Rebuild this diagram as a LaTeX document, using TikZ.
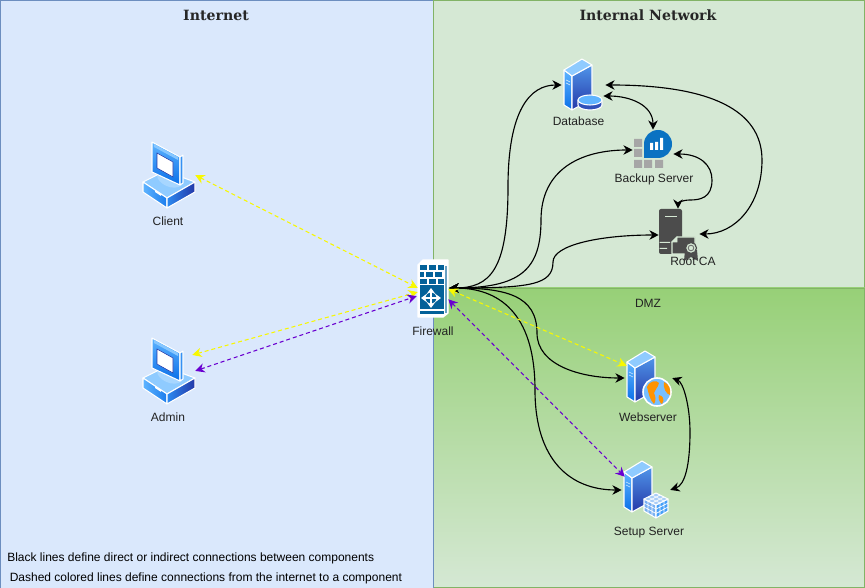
\documentclass[tikz,border=0pt]{standalone}
\usepackage{fontspec}
\setmainfont{Liberation Sans}
\newfontfamily\titlefont{DejaVu Serif}
\definecolor{pcBlue}{HTML}{DAE8FC}
\definecolor{pcBlueL}{HTML}{6C8EBF}
\definecolor{pcGreen}{HTML}{D5E8D4}
\definecolor{pcGreenL}{HTML}{82B366}
\definecolor{pcDmz}{HTML}{97D077}
\definecolor{scrA}{HTML}{0A6FE8}
\definecolor{scrB}{HTML}{5FB4FF}
\definecolor{scrC}{HTML}{2438A8}
\definecolor{fwblue}{HTML}{036199}
\definecolor{bkblue}{HTML}{0A72C2}
\definecolor{lblgray}{HTML}{222222}
\definecolor{vio}{HTML}{6A00D0}
\definecolor{yel}{HTML}{F8F800}
\usetikzlibrary{arrows.meta}
\tikzset{
  lbl/.style={font=\fontsize{9}{11}\selectfont,text=lblgray,inner sep=0pt},
  ttl/.style={font=\titlefont\bfseries\fontsize{10.6}{12}\selectfont,text=black!85,inner sep=0pt},
  note/.style={font=\fontsize{9}{11}\selectfont,text=black,inner sep=0pt,anchor=west},
  port/.style={inner sep=0pt,minimum size=0pt},
  box/.style={inner sep=0pt,draw=none},
  blk/.style={draw=black,line width=0.85pt,{Stealth[length=7pt,width=7pt]}-{Stealth[length=7pt,width=7pt]}},
  yline/.style={draw=yel,line width=0.8pt,dash pattern=on 3pt off 2.2pt,{Stealth[length=7pt,width=7pt]}-{Stealth[length=7pt,width=7pt]}},
  vline/.style={draw=vio,line width=0.8pt,dash pattern=on 3pt off 2.2pt,{Stealth[length=7pt,width=7pt]}-{Stealth[length=7pt,width=7pt]}},
  wht/.style={draw=white,line width=0.8pt,line join=round},
}
\newcommand{\pcicon}[2]{% x, y = centre
\begin{scope}[shift={(#1,#2)}]
 % base
 \fill[wht,fill=scrB!70!white] (-25,6) -- (-3,-5) -- (27,6) -- (-1,22) -- cycle;
 \path[wht,left color=scrB,right color=scrA!80!scrB] (-25,6) -- (-1,22) -- (-1,32) -- (-25,16) -- cycle;
 \path[wht,left color=scrA!60!scrB,right color=scrC] (-1,22) -- (27,6) -- (27,16) -- (-1,32) -- cycle;
 \fill[white] (-13,14) -- (-7,18) -- (-7,20) -- (-13,16) -- cycle;
 % stand
 \fill[scrB!55!white] (-11,-1) .. controls (-11,8) and (6,16) .. (14,9) -- (14,-2) -- cycle;
 % monitor
 \path[wht,top color=scrB,bottom color=scrA] (-16,-34) -- (12,-19) -- (12,9) -- (-16,-4) -- cycle;
 \fill[scrB!75!white] (-14,-32) -- (10,-19) -- (10,-16) -- (-14,-29) -- cycle;
 \fill[wht,fill=scrB!50!scrA] (12,-19) -- (15,-21) -- (15,7) -- (12,9) -- cycle;
 \fill[white,draw=scrC,line width=0.4pt] (-11,-23) -- (5,-14) -- (5,1) -- (-11,-8) -- cycle;
\end{scope}}
\newcommand{\srvicon}[2]{% centre of tower
\begin{scope}[shift={(#1,#2)}]
 \path[wht,top color=scrB,bottom color=scrA] (-13,-17) -- (-5,-11) -- (-5,23) -- (-13,18) -- cycle;
 \path[wht,top color=scrB!75!scrC,bottom color=scrC] (-5,-11) -- (15,-22) -- (15,12) -- (-5,23) -- cycle;
 \fill[wht,fill=scrB!70!white] (-13,-17) -- (5,-28) -- (15,-22) -- (-5,-11) -- cycle;
 \draw[white!70!scrB,line width=0.5pt] (-11,-7) -- (-7,-5) (-11,-4) -- (-7,-2);
\end{scope}}
\begin{document}
\begin{tikzpicture}[x=0.75pt,y=-0.75pt]
\useasboundingbox (0,0) rectangle (865,588);
% zones
\node[box,anchor=north west,minimum width=324.4pt,minimum height=440.4pt,fill=pcBlue,draw=pcBlueL,line width=0.6pt] (zoneInternet) at (0.4,0.4) {};
\node[box,anchor=north west,minimum width=323.6pt,minimum height=215.6pt,fill=pcGreen,draw=pcGreenL,line width=0.6pt] (zoneInternal) at (433,0.5) {};
\path[top color=pcDmz,bottom color=pcGreen] (433,288) rectangle (864.5,587.5);
\draw[pcGreenL,line width=0.6pt] (433,288) rectangle (864.5,587.5);
\draw[pcBlueL,line width=0.6pt] (433,288) -- (433,588);
\node[ttl] (tInternet) at (216,15) {Internet};
\node[ttl] (tInternal) at (648,15) {Internal Network};
\node[lbl] (tDmz) at (648,303) {DMZ};
\node[note] (n1) at (7,558) {Black lines define direct or indirect connections between components};
\node[note] (n2) at (9.5,578) {Dashed colored lines define connections from the internet to a component};

% icons
\pcicon{168}{176}
\pcicon{168}{372}
\node[lbl] (lClient) at (168,221) {Client};
\node[lbl] (lAdmin) at (168,417) {Admin};

% firewall
\begin{scope}[shift={(433,288)}]
 \fill[wht,fill=white,line width=1pt] (-15,-23) -- (-10,-28) -- (15,-28) -- (15,25) -- (10,29) -- (-15,29) -- cycle;
 \foreach \yy/\xa/\xb in {-23/-13/-6,-23/-4/3,-23/5/11,-16/-13/-9,-16/-7/0,-16/2/9,-9/-13/-6,-9/-4/3,-9/5/11}
  \fill[fwblue] (\xa,\yy) rectangle (\xb,\yy+5);
 \fill[fwblue] (-13,-3) rectangle (11,21);
 \fill[fwblue] (-13,23) rectangle (11,26);
 \fill[fwblue!60] (12,-22) rectangle (13.5,25);
 \foreach \dx/\dy in {0/-10,0/10,-10/0,10/0}
  \draw[white,line width=1.6pt,-{Stealth[length=4.5pt,width=6.5pt]}] (-2,10) -- ++(\dx,\dy);
\end{scope}
\node[lbl] (lFw) at (433,331) {Firewall};

% database
\srvicon{577}{87}
\begin{scope}[shift={(590,102)}]
 \fill[wht,fill=scrC!80!scrB] (-12,-2) -- (-12,3) arc[start angle=180,end angle=0,x radius=12,y radius=5] -- (12,-2) -- cycle;
 \fill[wht,fill=scrB] (0,-2) ellipse[x radius=12,y radius=5];
\end{scope}
\node[lbl] (lDb) at (578.5,121) {Database};

% backup
\fill[black!35] (634,139) rectangle (642,147) (634,149) rectangle (642,157)
  (634,160) rectangle (642,168) (644,160) rectangle (652,168) (655,160) rectangle (663,168);
\fill[bkblue] (658,144) circle[radius=14];
\fill[bkblue] (644,144) rectangle (658,158);
\fill[white] (650,143) rectangle (653,150) (655,142) rectangle (658,150) (660,138) rectangle (663,150);
\node[lbl] (lBk) at (654,179.5) {Backup Server};

% root ca
\begin{scope}[shift={(659,209)}]
 \fill[black!70,rounded corners=1.5pt] (0,0) rectangle (23,45);
 \fill[pcGreen] (6,7) rectangle (18,8.3);
 \fill[pcGreen] (0.5,33) rectangle (11,34) (0.5,39) rectangle (8,40);
 \fill[black!70,draw=pcGreen,line width=0.8pt] (18,28) -- (36,28) -- (36,45) -- (13,45) -- (13,33) -- cycle;
 \draw[pcGreen,line width=0.6pt,fill=pcGreen] (13,33) -- (18,33) -- (18,28) -- cycle;
 \fill[black!70] (26,41) -- (25,52) -- (32,48) -- (39,52) -- (38,41) -- cycle;
 \draw[black!70,fill=pcGreen,line width=0.9pt] (32,39) circle (5.5);
 \draw[black!55,line width=0.7pt] (32,39) circle (2.8);
\end{scope}
\node[lbl] (lCa) at (693,261) {Root CA};

% webserver
\srvicon{640}{379}
\begin{scope}[shift={(657,392)}]
 \fill[scrB!85!white,draw=white,line width=1.2pt] (0,0) circle (14);
 \fill[orange!85!yellow] (-10,-5) .. controls (-7,-12) and (0,-12) .. (2,-9) .. controls (1,-4) and (-2,-3) .. (-3,1) .. controls (-1,5) and (-1,9) .. (-3,12) .. controls (-7,8) and (-8,3) .. (-10,-5);
 \fill[orange!85!yellow] (7,-10) .. controls (12,-8) and (14,-3) .. (13,3) .. controls (9,2) and (6,-4) .. (7,-10);
 \fill[orange!85!yellow] (2,3) .. controls (6,4) and (8,7) .. (5,12) .. controls (2,10) and (1,6) .. (2,3);
\end{scope}
\node[lbl] (lWeb) at (648,417) {Webserver};

% setup server
\srvicon{637}{489}
\begin{scope}[shift={(656,505)}]
 \fill[wht,fill=scrA!55!white] (-12,-6) -- (0,0) -- (0,13) -- (-12,6) -- cycle;
 \fill[wht,fill=scrB!70!scrA] (0,0) -- (12,-6) -- (12,6) -- (0,13) -- cycle;
 \fill[wht,fill=scrA!35!white] (-12,-6) -- (0,-12) -- (12,-6) -- (0,0) -- cycle;
 \draw[white,line width=0.5pt] (-8,-4) -- (-8,8) (-4,-2) -- (-4,10.5) (4,-2) -- (4,10.5) (8,-4) -- (8,8)
   (-12,-2) -- (0,4) -- (12,-2) (-12,2) -- (0,8.5) -- (12,2)
   (-8,-8) -- (4,-2) (-4,-10) -- (8,-4) (8,-8) -- (-4,-2) (4,-10) -- (-8,-4);
\end{scope}
\node[lbl] (lSetup) at (649,532.5) {Setup Server};

% ports as named nodes
\node[port] (fwE) at (449,288) {};
\node[port] (fwEy) at (448,289) {};
\node[port] (fwEv) at (448,299) {};
\node[port] (fwW) at (418,288) {};
\node[port] (fwWy) at (418,292) {};
\node[port] (fwWv) at (417,296) {};
\node[port] (clE) at (195,175) {};
\node[port] (adE) at (192,355) {};
\node[port] (adEv) at (195,371) {};
\node[port] (dbW) at (562,85) {};
\node[port] (dbE) at (605,85) {};
\node[port] (dbE2) at (603,96) {};
\node[port] (bkN) at (653,130) {};
\node[port] (bkW) at (633,150) {};
\node[port] (bkE) at (673,154) {};
\node[port] (caN) at (678,209) {};
\node[port] (caW) at (659,235) {};
\node[port] (caE) at (699,234) {};
\node[port] (webW) at (625,378) {};
\node[port] (webE) at (672,378) {};
\node[port] (webY) at (627,366) {};
\node[port] (setW) at (622,490) {};
\node[port] (setE) at (670,490) {};
\node[port] (setV) at (625,477) {};

% black connectors
\draw[blk] (fwE) .. controls (490,288) and (508,270) .. (508,187) .. controls (508,110) and (530,85) .. (dbW);
\draw[blk] (fwE) .. controls (520,288) and (541,270) .. (541,220) .. controls (541,170) and (580,150) .. (bkW);
\draw[blk] (fwE) .. controls (530,288) and (553,285) .. (553,262) .. controls (553,245) and (600,235) .. (caW);
\draw[blk] (fwE) .. controls (505,288) and (537,295) .. (537,333) .. controls (537,365) and (580,378) .. (webW);
\draw[blk] (fwE) .. controls (505,288) and (535,320) .. (535,390) .. controls (535,460) and (570,490) .. (setW);
\draw[blk] (dbE2) .. controls (630,96) and (653,105) .. (bkN);
\draw[blk] (dbE) .. controls (710,85) and (762,110) .. (762,160) .. controls (762,205) and (735,234) .. (caE);
\draw[blk] (bkE) .. controls (700,154) and (712,165) .. (712,180) .. controls (712,198) and (700,200) .. (690,200) .. controls (682,200) and (678,203) .. (caN);
\draw[blk] (webE) .. controls (683,382) and (690,405) .. (690,432) .. controls (690,465) and (685,485) .. (setE);

% dashed connectors
\draw[yline] (clE) -- (fwW);
\draw[yline] (adE) -- (fwWy);
\draw[vline] (adEv) -- (fwWv);
\draw[yline] (fwEy) -- (webY);
\draw[vline] (fwEv) -- (setV);
\end{tikzpicture}
\end{document}
